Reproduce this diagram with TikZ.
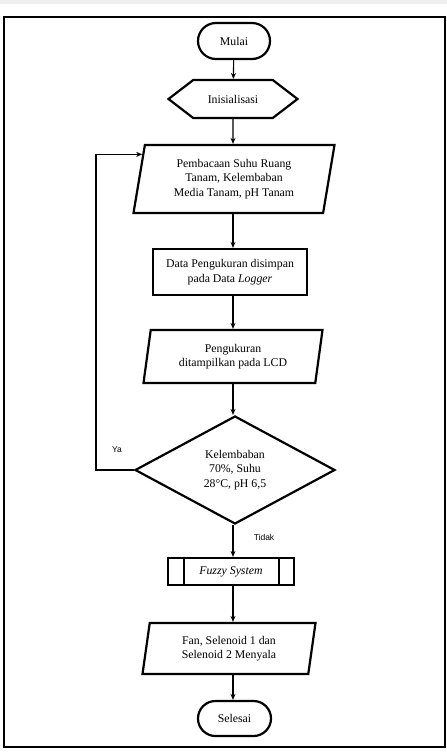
\documentclass[tikz,border=0pt]{standalone}
\usepackage{fontspec}
\setmainfont{Liberation Serif}
\newfontfamily\labelfont{Liberation Sans}
\usetikzlibrary{shapes.geometric, shapes.misc, shapes.symbols, arrows.meta}

\begin{document}
\begin{tikzpicture}[
  x = 1pt, y = -1pt,
  font = \fontsize{11.8}{14.5}\selectfont,
  box/.style = {draw, line width = 2.2pt, align = center, inner sep = 0pt},
  terminal/.style = {box, rounded rectangle, minimum width = 72pt, minimum height = 36pt},
  prep/.style = {box, signal, signal to = west and east, signal pointer angle = 75,
    minimum width = 129pt, minimum height = 38pt},
  io/.style = {box, trapezium, trapezium left angle = 74, trapezium right angle = 106,
    trapezium stretches body = true},
  process/.style = {box, rectangle},
  decision/.style = {box, diamond},
  flow/.style = {line width = 1.1pt, -{Stealth[length = 6pt, width = 5pt]}},
  answer/.style = {font = \labelfont\fontsize{8.5}{10}\selectfont}
  ]
  % page and frame
  \useasboundingbox (0,0) rectangle (447,753);
  \fill[white] (0,0) rectangle (447,753);
  \fill[gray!12] (0,0) rectangle (447,4);
  \draw[line width = 2.4pt] (4,17) rectangle (445,747);

  % steps
  \node [terminal] (mulai) at (234,41) {Mulai};
  \node [prep] (init) at (233,99) {Inisialisasi};
  \node [io, minimum width = 201pt, minimum height = 68pt] (baca) at (234,179)
    {Pembacaan Suhu Ruang\\Tanam, Kelembaban\\Media Tanam, pH Tanam};
  \node [process, minimum width = 154pt, minimum height = 46pt] (simpan) at (230,272)
    {Data Pengukuran disimpan\\pada Data \textit{Logger}};
  \node [io, minimum width = 179pt, minimum height = 53pt] (lcd) at (233,356.5)
    {Pengukuran\\ditampilkan pada LCD};
  \node [decision, minimum width = 200pt, minimum height = 108pt] (cek) at (235,470)
    {Kelembaban\\70\%, Suhu\\28\textdegree C, pH 6,5};
  \node [process, minimum width = 126pt, minimum height = 27pt] (fuzzy) at (231,571.5)
    {\textit{Fuzzy System}};
  \draw [line width = 2.2pt] ([xshift = 17pt]fuzzy.north west) -- ([xshift = 17pt]fuzzy.south west)
    ([xshift = -16pt]fuzzy.north east) -- ([xshift = -16pt]fuzzy.south east);
  \node [io, minimum width = 173pt, minimum height = 51pt] (nyala) at (229,648.5)
    {Fan, Selenoid 1 dan\\Selenoid 2 Menyala};
  \node [terminal, minimum width = 73pt, minimum height = 35pt] (selesai) at (234.5,718.5) {Selesai};

  % answers
  \node [answer] (ya) at (117,450) {Ya};
  \node [answer] (tidak) at (264,537) {Tidak};

  % connectors
  \coordinate (loop) at (96,470);
  \draw [flow] (mulai) -- (init);
  \draw [flow] (init) -- (init.south |- baca.north);
  \draw [flow] (init.south |- baca.south) -- (init.south |- simpan.north);
  \draw [flow] (init.south |- simpan.south) -- (init.south |- lcd.north);
  \draw [flow] (init.south |- lcd.south) -- (init.south |- cek.north);
  \draw [flow] (init.south |- cek.south) -- (init.south |- fuzzy.north);
  \draw [flow] (init.south |- fuzzy.south) -- (init.south |- nyala.north);
  \draw [flow] (init.south |- nyala.south) -- (init.south |- selesai.north);
  \draw [flow] (cek.west) -- (loop) |- (baca.165);
\end{tikzpicture}
\end{document}
